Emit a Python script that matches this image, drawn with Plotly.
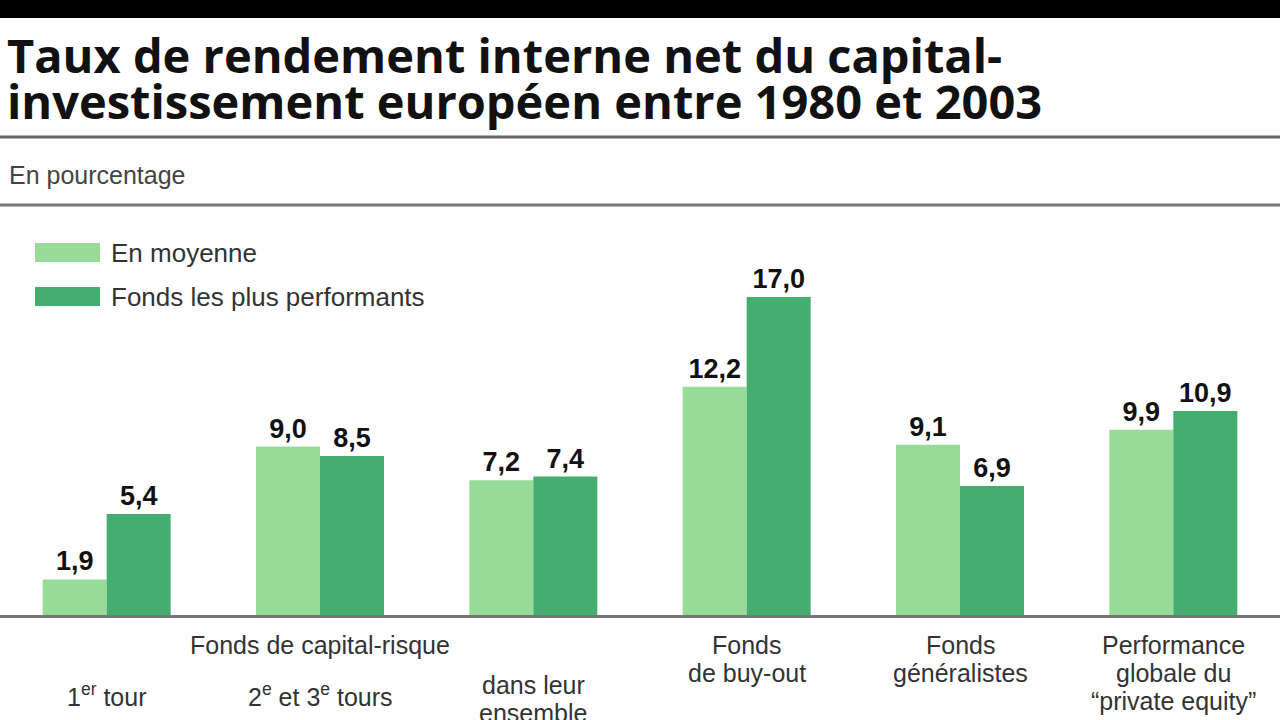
import plotly.graph_objects as go

# ---- data ----
categories = ["c1", "c2", "c3", "c4", "c5", "c6"]
series_names = ["En moyenne", "Fonds les plus performants"]
en_moyenne = [1.9, 9.0, 7.2, 12.2, 9.1, 9.9]
plus_performants = [5.4, 8.5, 7.4, 17.0, 6.9, 10.9]
cat_labels = [
    ["1<sup>er</sup> tour"],
    ["2<sup>e</sup> et 3<sup>e</sup> tours"],
    ["dans leur", "ensemble"],
    ["Fonds", "de buy-out"],
    ["Fonds", "généralistes"],
    ["Performance", "globale du", "\u201cprivate equity\u201d"],
]
cat_label_top = [695, 695, 685, 645, 645, 645]
group_label = "Fonds de capital-risque"
title_lines = ["Taux de rendement interne net du capital-",
               "investissement européen entre 1980 et 2003"]
subtitle = "En pourcentage"

LIGHT = "#98DA98"
DARK = "#43AE6E"
W, H = 1280, 720
T, B = 220, 105
PLOT_H = H - T - B


def py(y_px):
    """pixel from top -> paper y"""
    return (H - B - y_px) / PLOT_H


def px(x_px):
    return x_px / W


def fmt(v):
    return "<b>" + f"{v:.1f}".replace(".", ",") + "</b>"


fig = go.Figure()
for name, vals, col in [(series_names[0], en_moyenne, LIGHT),
                        (series_names[1], plus_performants, DARK)]:
    fig.add_trace(go.Bar(
        x=categories, y=vals, name=name, marker=dict(color=col, line=dict(width=0)),
        text=[fmt(v) for v in vals], textposition="outside",
        textfont=dict(family="Liberation Sans, Arial", size=27, color="#111111"),
        cliponaxis=False, showlegend=False,
    ))

label_font = dict(family="Liberation Sans, Arial", size=25, color="#333333")
ann = []
# title
for i, line in enumerate(title_lines):
    ann.append(dict(text=f"<b>{line}</b>", xref="paper", yref="paper",
                    x=px(5), y=py(89 + i * 46), xanchor="left", yanchor="bottom",
                    showarrow=False,
                    font=dict(family="Open Sans", size=47, color="#111111")))
ann.append(dict(text=subtitle, xref="paper", yref="paper", x=px(7), y=py(175),
                xanchor="left", yanchor="middle", showarrow=False,
                font=dict(family="Liberation Sans, Arial", size=25, color="#444444")))
# legend
for i, (name, col) in enumerate(zip(series_names, [LIGHT, DARK])):
    yc = 253 + i * 44
    ann.append(dict(text=name, xref="paper", yref="paper", x=px(109), y=py(yc),
                    xanchor="left", yanchor="middle", showarrow=False,
                    font=dict(family="Liberation Sans, Arial", size=26, color="#333333")))
# category labels
ann.append(dict(text=group_label, x=categories[1], xref="x", yref="paper", y=py(645),
                yanchor="middle", showarrow=False, font=label_font))
for i, lines in enumerate(cat_labels):
    for j, line in enumerate(lines):
        ann.append(dict(text=line, x=categories[i], xref="x", yref="paper",
                        y=py(cat_label_top[i] + j * 28), yanchor="middle",
                        showarrow=False, font=label_font, align="center"))

shapes = [
    dict(type="rect", xref="paper", yref="paper", x0=0, x1=1, y0=py(18), y1=py(-2),
         fillcolor="#000000", line=dict(width=0), layer="below"),
    dict(type="line", xref="paper", yref="paper", x0=0, x1=1, y0=py(137), y1=py(137),
         line=dict(color="#666666", width=3)),
    dict(type="line", xref="paper", yref="paper", x0=0, x1=1, y0=py(205), y1=py(205),
         line=dict(color="#777777", width=3)),
]
for i, col in enumerate([LIGHT, DARK]):
    y0 = 243 + i * 44
    shapes.append(dict(type="rect", xref="paper", yref="paper", x0=px(35), x1=px(100),
                       y0=py(y0 + 19), y1=py(y0), fillcolor=col, line=dict(width=0)))

fig.update_layout(
    width=W, height=H,
    margin=dict(l=0, r=0, t=T, b=B, pad=0),
    paper_bgcolor="white", plot_bgcolor="white",
    barmode="group", bargap=0.4, bargroupgap=0,
    xaxis=dict(range=[-0.5, 5.5], showticklabels=False, ticks="", showgrid=False,
               showline=True, linecolor="#777777", linewidth=3, layer="below traces",
               zeroline=False),
    yaxis=dict(range=[0, PLOT_H / 18.71], visible=False, showgrid=False, zeroline=False),
    annotations=ann, shapes=shapes, showlegend=False,
)
fig.write_html("out.html", config={"displayModeBar": False},
               post_script="document.body.style.margin='0';document.body.style.overflow='hidden';")
